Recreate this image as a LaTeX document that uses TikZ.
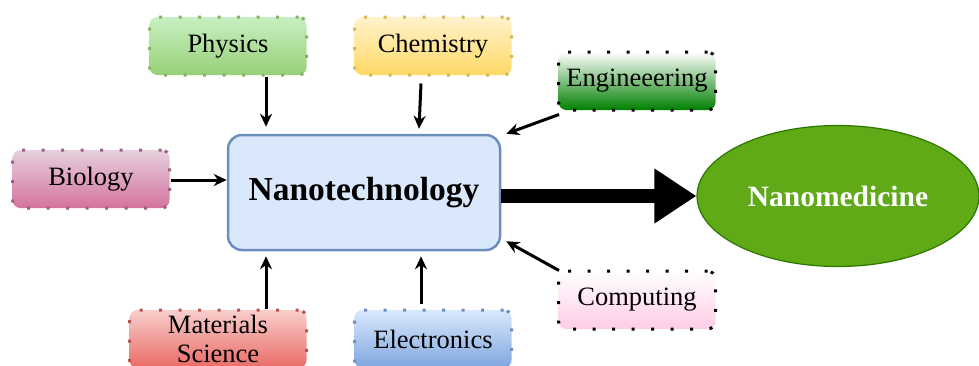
\documentclass[tikz,border=0pt]{standalone}
\usepackage{fontspec}
\setmainfont{Liberation Serif}
\usetikzlibrary{arrows.meta,shapes.geometric}
\definecolor{gB}{HTML}{82B366}
\definecolor{yB}{HTML}{D6B656}
\definecolor{pB}{HTML}{996185}
\definecolor{rB}{HTML}{B85450}
\definecolor{bB}{HTML}{6C8EBF}
\tikzset{
  sbox/.style={rounded corners=8pt, minimum width=157pt, minimum height=58pt,
    line width=3pt, dash pattern=on 3pt off 16.5pt, font=\fontsize{26.5}{29}\selectfont,
    align=center, inner sep=0pt},
  arr/.style={line width=3pt, -{Stealth[length=13pt,width=12pt]}},
}
\begin{document}
\begin{tikzpicture}[x=1pt,y=-1pt]
\useasboundingbox (0,0) rectangle (979,365);
\node[sbox, draw=gB, top color=green!15!white!80!gB, bottom color={rgb,255:red,151;green,208;blue,119}] (phys) at (228,46) {Physics};
\node[sbox, draw=yB, top color={rgb,255:red,255;green,242;blue,204}, bottom color={rgb,255:red,255;green,217;blue,102}] (chem) at (433,46) {Chemistry};
\node[sbox, draw=black, top color=white, bottom color={rgb,255:red,0;green,128;blue,0}] (eng) at (637,81) {Engineeering};
\node[sbox, draw=pB, top color={rgb,255:red,230;green,208;blue,222}, bottom color={rgb,255:red,213;green,115;blue,157}] (bio) at (91,179) {Biology};
\node[sbox, minimum width=177pt, draw=rB, top color={rgb,255:red,248;green,206;blue,204}, bottom color={rgb,255:red,234;green,107;blue,102}] (mat) at (218,339) {Materials\\Science};
\node[sbox, draw=bB, top color={rgb,255:red,218;green,232;blue,252}, bottom color={rgb,255:red,126;green,166;blue,224}] (elec) at (433,339) {Electronics};
\node[sbox, draw=black, top color=white, bottom color={rgb,255:red,255;green,204;blue,230}] (comp) at (637,300) {Computing};
\node[rounded corners=14pt, draw=bB, line width=2.5pt, fill={rgb,255:red,218;green,232;blue,252},
  minimum width=272pt, minimum height=115pt, font=\fontsize{33.5}{36}\selectfont\bfseries] (nano) at (364,192.5) {Nanotechnology};
\node[ellipse, draw={rgb,255:red,45;green,118;blue,0}, line width=1.2pt, fill={rgb,255:red,96;green,169;blue,23},
  minimum width=282pt, minimum height=141pt, inner sep=0pt, text=white, font=\fontsize{29.5}{33}\selectfont\bfseries] (med) at (838,196) {Nanomedicine};
\draw[arr, shorten >=7pt] ([xshift=38pt]phys.south) -- ([xshift=-98pt]nano.north);
\draw[arr] ([xshift=-12pt,yshift=-7pt]chem.south) -- ([xshift=55pt,yshift=5pt]nano.north);
\draw[arr] ([shift={(2,3)}]eng.south west) -- ([shift={(5,0)}]nano.north east);
\draw[arr] ([shift={(2,1)}]comp.north west) -- ([shift={(5,-10)}]nano.south east);
\draw[arr] (bio.east |- 0,180) -- (nano.west |- 0,180);
\draw[arr] ([xshift=48pt]mat.north) -- ([xshift=-98pt,yshift=-5pt]nano.south);
\draw[arr] ([xshift=-12pt,yshift=5pt]elec.north) -- ([xshift=57pt,yshift=-5pt]nano.south);
\draw[line width=14pt, -{Triangle[length=42pt,width=52pt]}] (nano.east |- 0,196) -- (med.west);
\end{tikzpicture}
\end{document}
